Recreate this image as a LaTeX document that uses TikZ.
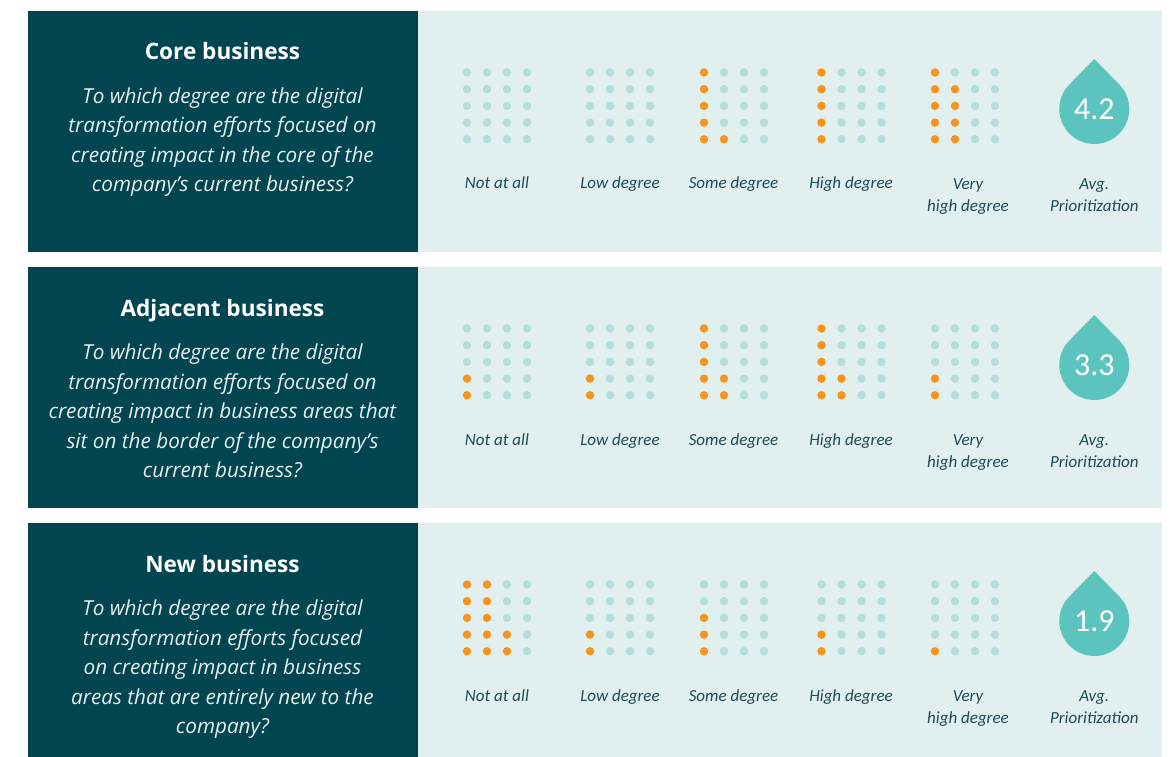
\documentclass[tikz,border=0pt]{standalone}
\usepackage{fontspec}
\setmainfont{Open Sans}
\newfontfamily\labelfont{Carlito}

\definecolor{darkteal}{RGB}{0,69,80}
\definecolor{paleteal}{RGB}{225,240,239}
\definecolor{dotteal}{RGB}{178,223,219}
\definecolor{dotorange}{RGB}{247,148,30}
\definecolor{dropteal}{RGB}{91,196,190}
\definecolor{labeltext}{RGB}{30,75,85}
\definecolor{qtext}{RGB}{232,240,240}

\begin{document}
\begin{tikzpicture}[x=1pt,y=-1pt]
      \tikzset{
        darkbox/.style={fill=darkteal},
        lightbox/.style={fill=paleteal},
        title/.style={anchor=base,inner sep=0pt,text=white,font=\fontsize{22.6}{26}\selectfont\bfseries},
        question/.style={anchor=base,inner sep=0pt,align=center,text=qtext,font=\fontsize{20.7}{29.5}\selectfont\itshape},
        scalelabel/.style={anchor=base,inner sep=0pt,align=center,text=labeltext,font=\labelfont\itshape\fontsize{17}{22.5}\selectfont},
        pip/.style={circle,inner sep=0pt,minimum size=8.5pt},
        drop/.style={fill=dropteal},
        avg/.style={inner sep=0pt,text=white,font=\labelfont\fontsize{32}{32}\selectfont}
      }

      \useasboundingbox[fill=white] (0,0) rectangle (1173,757);

      % base anchor of a multi-line node sits on its last line
      \foreach \r/\title/\lastline/\q in {
          0/Core business/192/{To which degree are the digital\\transformation efforts focused on\\creating impact in the core of the\\company’s current business?},
          1/Adjacent business/221.5/{To which degree are the digital\\transformation efforts focused on\\creating impact in business areas that\\sit on the border of the company’s\\current business?},
          2/New business/221.5/{To which degree are the digital\\transformation efforts focused\\on creating impact in business\\areas that are entirely new to the\\company?}} {
        \pgfmathsetmacro\top{11+256*\r}
        \pgfmathsetmacro\bot{min(\top+241,757)}
        \fill[darkbox] (27.5,\top) rectangle (418,\bot);
        \fill[lightbox] (418,\top) rectangle (1162,\bot);
        \node[title] (title\r) at (222.5,60+256*\r) {\title};
        \node[question] (q\r) at (222.5,\lastline+256*\r) {\q};
      }

      \foreach \r/\counts/\val in {0/{0,0,6,5,9}/4.2, 1/{2,2,7,7,2}/3.3, 2/{12,2,3,2,1}/1.9} {
        \foreach \n [count=\g] in \counts {
          \pgfmathsetmacro\gx{{467,590,704,821.5,935}[\g-1]}
          \foreach \c in {0,...,3}
            \foreach \k in {0,...,4} {
              \pgfmathtruncatemacro\idx{\c*5+\k}
              \ifnum\idx<\n \def\dotcol{dotorange}\else\def\dotcol{dotteal}\fi
              \node[pip,fill=\dotcol] (d\r-\g-\c-\k) at (\gx+20*\c,139.3+256*\r-16.7*\k) {};
            }
        }
        \foreach \txt/\lx/\ly [count=\g] in {Not at all/497/189, Low degree/620/189, Some degree/733.5/189, High degree/851/189, {Very\\high degree}/968/211.5, {Avg.\\Prioritization}/1094.3/211.5}
          \node[scalelabel] (lab\r-\g) at (\lx,\ly+256*\r) {\txt};

        \coordinate (drop\r) at (1094.3,109+256*\r);
        \fill[drop] ([yshift=50pt]drop\r) -- ([shift={(-44.4:35)}]drop\r)
          arc[start angle=-44.4,end angle=224.4,radius=35] -- cycle;
        \node[avg] (val\r) at (drop\r) {\val};
      }
\end{tikzpicture}
\end{document}
